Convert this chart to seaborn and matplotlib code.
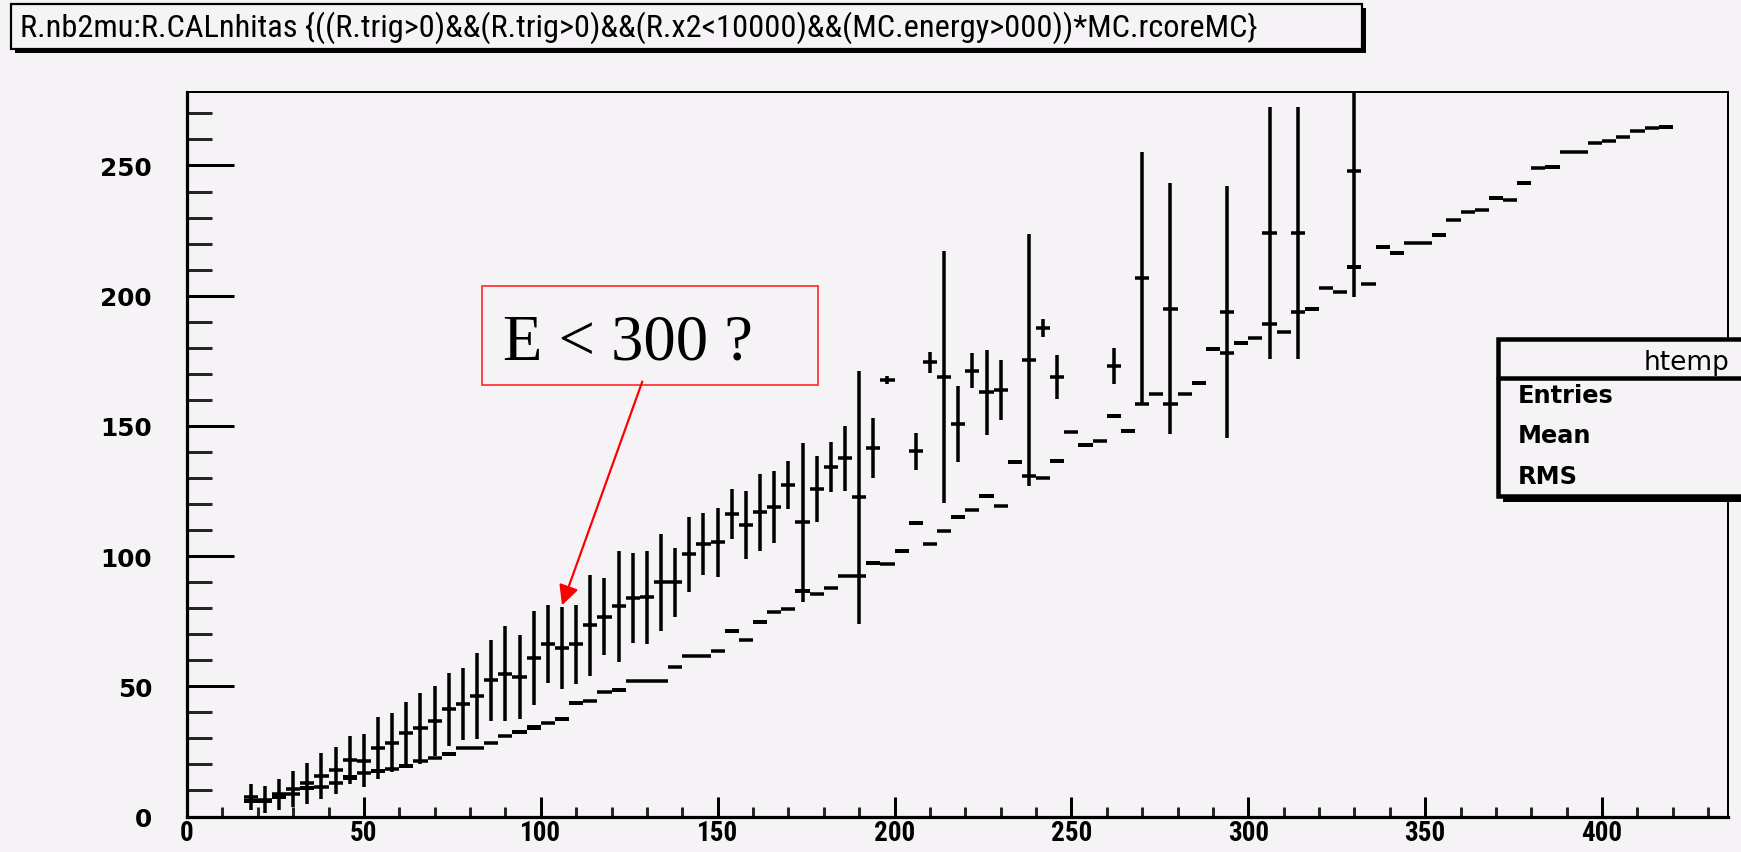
import numpy as np
import pandas as pd
import matplotlib
matplotlib.use("Agg")
import matplotlib.pyplot as plt
import seaborn as sns
from matplotlib import font_manager as fm
from matplotlib.patches import Rectangle
from matplotlib.ticker import MultipleLocator, FormatStrFormatter

# ---------------- data ----------------
TITLE = "R.nb2mu:R.CALnhitas {((R.trig>0)&&(R.trig>0)&&(R.x2<10000)&&(MC.energy>000))*MC.rcoreMC}"
STATS_NAME = "htemp"
STATS_ROWS = ["Entries", "Mean", "RMS"]
NOTE = "E < 300 ?"

upper_x = [18, 22, 26, 30, 34, 38, 42, 46, 50, 54,
           58, 62, 66, 70, 74, 78, 82, 86, 90, 94,
           98, 102, 106, 110, 114, 118, 122, 126, 130, 134,
           138, 142, 146, 150, 154, 158, 162, 166, 170, 174,
           178, 182, 186, 190, 194, 198, 206, 210, 214, 218,
           222, 226, 230, 238, 242, 246, 262, 270, 278, 294,
           306, 314, 330]
upper_y = [7.5, 6.5, 8.5, 10.5, 12.7, 15.5, 17.8, 21.7, 21.5, 26.2,
           28.4, 32.0, 33.9, 36.8, 41.2, 43.2, 46.2, 52.3, 54.9, 53.6,
           60.8, 66.2, 64.8, 66.2, 73.5, 76.8, 80.8, 83.9, 84.1, 89.9,
           89.9, 100.8, 104.6, 105.3, 116.1, 111.9, 116.8, 118.7, 127.3, 112.9,
           125.7, 134.1, 137.5, 122.5, 141.5, 167.6, 140.2, 174.4, 168.6, 150.7,
           171.2, 162.9, 163.8, 175.3, 187.6, 168.9, 173.1, 206.8, 194.9, 193.9,
           224.1, 224.1, 248.0]
upper_err = [5.0, 5.3, 6.0, 7.0, 7.9, 8.7, 9.0, 9.4, 10.1, 11.9,
             11.2, 12.0, 13.7, 13.4, 14.0, 13.7, 16.6, 15.6, 18.2, 16.2,
             18.0, 15.0, 15.8, 15.2, 19.4, 14.9, 21.3, 17.1, 18.0, 18.5,
             13.2, 14.4, 12.0, 13.3, 9.7, 13.2, 14.7, 13.8, 9.4, 30.6,
             12.6, 9.6, 12.6, 48.6, 11.6, 1.5, 7.1, 4.0, 48.4, 14.6,
             6.8, 16.4, 11.5, 48.5, 3.5, 8.5, 7.0, 48.3, 48.2, 48.4,
             48.3, 48.3, 48.6]

lower_x = [18, 22, 26, 30, 34, 38, 42, 46, 50, 54,
           58, 62, 66, 70, 74, 78, 82, 86, 90, 94,
           98, 102, 106, 110, 114, 118, 122, 126, 130, 134,
           138, 142, 146, 150, 154, 158, 162, 166, 170, 174,
           178, 182, 186, 190, 194, 198, 202, 206, 210, 214,
           218, 222, 226, 230, 234, 238, 242, 246, 250, 254,
           258, 262, 266, 270, 274, 278, 282, 286, 290, 294,
           298, 302, 306, 310, 314, 318, 322, 326, 330, 334,
           338, 342, 346, 350, 354, 358, 362, 366, 370, 374,
           378, 382, 386, 390, 394, 398, 402, 406, 410, 414,
           418]
lower_y = [6.0, 5.9, 7.4, 8.5, 10.8, 11.2, 13.0, 15.0, 16.8, 17.6,
           18.3, 19.5, 21.5, 22.5, 24.0, 26.2, 26.2, 28.3, 30.8, 32.5,
           34.2, 35.9, 37.5, 43.6, 44.5, 47.7, 48.7, 52.1, 52.1, 52.1,
           57.6, 61.5, 61.5, 63.7, 71.1, 67.9, 74.8, 78.4, 79.7, 86.5,
           85.4, 87.6, 92.2, 92.3, 97.4, 97.0, 101.8, 112.6, 104.6, 109.7,
           114.9, 117.7, 123.2, 119.1, 136.0, 130.6, 129.8, 136.4, 147.5, 142.6,
           144.3, 153.9, 147.9, 158.4, 162.2, 158.4, 162.2, 166.5, 179.5, 178.0,
           181.8, 183.6, 189.1, 185.9, 193.6, 194.9, 203.0, 201.5, 210.9, 204.5,
           218.8, 216.4, 220.1, 220.1, 223.3, 229.0, 232.3, 232.9, 237.4, 236.7,
           243.3, 249.1, 249.5, 255.3, 255.3, 258.6, 259.5, 260.8, 263.1, 264.4,
           264.9]
lower_err = [0.8, 0.8, 0.8, 0.0, 0.8, 0.0, 0.0, 0.8, 0.0, 0.8,
             0.0, 0.8, 0.0, 0.0, 0.8, 0.0, 0.0, 0.0, 0.0, 0.8,
             0.8, 0.0, 0.8, 0.8, 0.0, 0.0, 0.8, 0.0, 0.0, 0.0,
             0.0, 0.0, 0.0, 0.0, 0.8, 0.0, 0.8, 0.0, 0.0, 0.8,
             0.0, 0.0, 0.0, 0.0, 0.8, 0.0, 0.8, 0.8, 0.0, 0.0,
             0.8, 0.0, 0.8, 0.0, 0.8, 0.0, 0.0, 0.8, 0.0, 0.8,
             0.0, 0.8, 0.8, 0.0, 0.0, 0.0, 0.0, 0.8, 0.8, 0.0,
             0.8, 0.0, 0.0, 0.0, 0.0, 0.8, 0.0, 0.0, 0.8, 0.0,
             0.8, 0.8, 0.0, 0.0, 0.8, 0.0, 0.0, 0.0, 0.8, 0.0,
             0.8, 0.0, 0.8, 0.0, 0.0, 0.0, 0.0, 0.0, 0.0, 0.0,
             0.8]

BIN_WIDTH = 4.0
X_RANGE = (0, 435.6)
Y_RANGE = (0, 278.1)
NOTE_TIP = (106.0, 81.1)
NOTE_TAIL = (128.7, 167.0)

# ---------------- style ----------------
W, H = 1741, 853
BG = "#f6f3f6"
PT = 0.72  # points per pixel at dpi 100
LW = 3.5 * PT

sns.set_theme(style="ticks")
plt.rcParams["font.family"] = ["DejaVu Sans"]

names = {f.name for f in fm.fontManager.ttflist}
narrow_family, narrow_stretch = "Liberation Sans", "normal"
for cand in ["Liberation Sans Narrow", "Arial Narrow", "Roboto Condensed"]:
    if cand in names:
        narrow_family = cand
        break
else:
    if any(f.name == "DejaVu Sans" and "condensed" in str(f.stretch) for f in fm.fontManager.ttflist):
        narrow_family, narrow_stretch = "DejaVu Sans", "condensed"

fig = plt.figure(figsize=(W / 100, H / 100), dpi=100)
fig.patch.set_facecolor(BG)
ax = fig.add_axes([187 / W, 1 - 817.5 / H, (1728 - 187) / W, (817.5 - 93.3) / H])
ax.set_facecolor(BG)

upper = pd.DataFrame({"x": upper_x, "y": upper_y, "err": upper_err})
lower = pd.DataFrame({"x": lower_x, "y": lower_y, "err": lower_err})

# lower profile: bin-wide bars with a (small) spread band
ax.bar(lower["x"], 2 * lower["err"], bottom=lower["y"] - lower["err"], width=BIN_WIDTH,
       color="black", linewidth=0, zorder=2)
ax.errorbar(lower["x"], lower["y"], xerr=BIN_WIDTH / 2, fmt="none", ecolor="black",
            elinewidth=LW, capsize=0, zorder=3)

# upper profile: crosses with error bars
ax.errorbar(upper["x"], upper["y"], xerr=BIN_WIDTH / 2, yerr=upper["err"], fmt="none",
            ecolor="black", elinewidth=LW, capsize=0, zorder=4)
sns.scatterplot(data=upper, x="x", y="y", marker="s", s=12, color="black",
                linewidth=0, ax=ax, zorder=5, legend=False)

ax.set_xlim(*X_RANGE)
ax.set_ylim(*Y_RANGE)
ax.set_xlabel("")
ax.set_ylabel("")

for side in ["left", "bottom"]:
    ax.spines[side].set_linewidth(3.2 * PT)
for side in ["top", "right"]:
    ax.spines[side].set_linewidth(2 * PT)
for s in ax.spines.values():
    s.set_color("black")

ax.xaxis.set_major_locator(MultipleLocator(50))
ax.xaxis.set_minor_locator(MultipleLocator(10))
ax.yaxis.set_major_locator(MultipleLocator(50))
ax.yaxis.set_minor_locator(MultipleLocator(10))
ax.xaxis.set_major_formatter(FormatStrFormatter("%d"))
ax.yaxis.set_major_formatter(FormatStrFormatter("%d"))

ax.tick_params(axis="y", which="major", direction="in", length=47 * PT, width=3 * PT,
               pad=35 * PT, labelsize=17.8, colors="black")
ax.tick_params(axis="y", which="minor", direction="in", length=25 * PT, width=3 * PT)
ax.tick_params(axis="x", which="major", direction="in", length=20 * PT, width=3 * PT,
               pad=1.5, labelsize=19.5, colors="black")
ax.tick_params(axis="x", which="minor", direction="in", length=10 * PT, width=3 * PT)
for lab in ax.get_yticklabels():
    lab.set_fontweight("bold")
    lab.set_family("DejaVu Sans")
for lab in ax.get_xticklabels():
    lab.set_fontweight("bold")
    lab.set_family(narrow_family)
    lab.set_fontstretch(narrow_stretch)

# annotation box and arrow
ax.add_patch(Rectangle((83.4, 165.8), 178.5 - 83.4, 203.6 - 165.8, facecolor="none",
                       edgecolor="#ff2020", linewidth=1.6 * PT, zorder=6))
ax.text(89.4, 175.7, NOTE, family="Liberation Serif", fontsize=46.5, color="black",
        ha="left", va="baseline", zorder=7)
ax.annotate("", xy=NOTE_TIP, xytext=NOTE_TAIL,
            arrowprops=dict(arrowstyle="-|>,head_length=1.2,head_width=0.6", color="red",
                            lw=2.2 * PT, shrinkA=0, shrinkB=0, mutation_scale=10),
            zorder=7)


def fig_rect(x0, y0, x1, y1, **kw):
    r = Rectangle((x0 / W, 1 - y1 / H), (x1 - x0) / W, (y1 - y0) / H,
                  transform=fig.transFigure, **kw)
    fig.add_artist(r)
    return r


# title box
fig_rect(15, 9, 1366, 54, facecolor="black", edgecolor="none", zorder=10)
fig_rect(11, 5, 1362, 50, facecolor=BG, edgecolor="black", linewidth=2.2 * PT, zorder=11)
t = fig.text(20 / W, 1 - 28 / H, TITLE, family=narrow_family, fontstretch=narrow_stretch,
             fontsize=16, ha="left", va="center", color="black", zorder=12)
fig.canvas.draw()
wpx = t.get_window_extent().width
t.set_fontsize(16 * 1238 / wpx)

# stats box
fig_rect(1503, 345, 1765, 503, facecolor="black", edgecolor="none", zorder=10)
fig_rect(1498, 340, 1760, 497, facecolor=BG, edgecolor="black", linewidth=4.5 * PT, zorder=11)
fig.add_artist(plt.Line2D([1498 / W, 1760 / W], [1 - 379 / H, 1 - 379 / H],
                          transform=fig.transFigure, color="black", linewidth=4.5 * PT, zorder=12))
fig.text(1730 / W, 1 - 370 / H, STATS_NAME, family="DejaVu Sans", fontsize=19,
         ha="right", va="baseline", color="black", zorder=12)
for i, row in enumerate(STATS_ROWS):
    fig.text(1518 / W, 1 - (403 + 40.5 * i) / H, row, family="DejaVu Sans", fontweight="bold",
             fontsize=17.3, ha="left", va="baseline", color="black", zorder=12)

fig.savefig("out.png", dpi=100, facecolor=BG)
